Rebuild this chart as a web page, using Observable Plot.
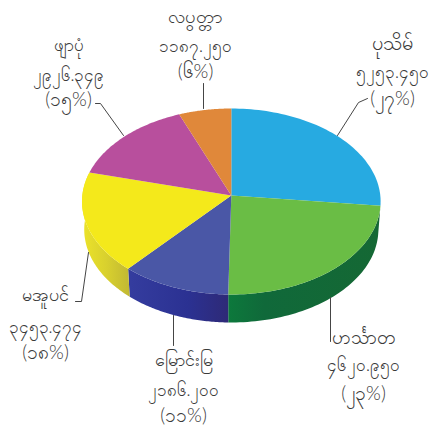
<!DOCTYPE html>
<html><head><meta charset="utf-8">
<style>html,body{margin:0;padding:0;background:#fff}</style>
<script src="https://cdn.jsdelivr.net/npm/d3@7"></script>
<script src="https://cdn.jsdelivr.net/npm/@observablehq/plot@0.6"></script>
</head><body><div id="c"></div>
<script>
// Data
const names=["ပုသိမ်","ဟင်္သာတ","မြောင်းမြ","မအူပင်","ဖျာပုံ","လပွတ္တာ"];
const values=[5253.45,4620.95,2186.2,3453.474,2926.349,1187.25];
const valueLabels=["၅၂၅၃.၄၅၀","၄၆၂၀.၉၅၀","၂၁၈၆.၂၀၀","၃၄၅၃.၄၇၄","၂၉၂၆.၃၄၉","၁၁၈၇.၂၅၀"];
const pctLabels=["(၂၇%)","(၂၃%)","(၁၁%)","(၁၈%)","(၁၅%)","(၆%)"];
const topColors=["#27aae1","#6abd45","#4a57a6","#f4e91b","#b84f9d","#e0883a"];
const sideFills=[null,"url(#gGreen)","url(#gBlue)","url(#gYellow)",null,null];

// Layout (pixels): pie projection, label anchors, leader lines
const P={cx:230.8,cy:195,a:149,b:92.6,k:0.0645,depth:28,rim:0.985};
const labelX=[392,363,183,45,68,195];
const labelY=[[43,72,98],[337,365,393],[360,390,415],[295,327,352],[45,75,99],[17,46,71]];
const nameSize=[20,19,18,18,17,18.5];
const rowSize=[null,17,19];
const leaders=[[[367,98],[358,102],[337,135]],[[330,297],[330,341]],[[173,315],[173,345]],
               [[75,301],[81,301],[88,252]],[[95,103],[100,103],[123,135]],[[203,83],[203,108]]];

const project=(t,dz=0,s=1)=>{const X=Math.sin(t),Y=Math.cos(t),w=1+P.k*Y;
  return {x:P.cx+s*P.a*X/w,y:P.cy-P.b*Y/w+dz};};
const total=d3.sum(values);
let acc=0;
const faces=[],sides=[];
values.forEach((v,i)=>{
  const a0=acc,a1=acc+v/total*2*Math.PI;acc=a1;
  faces.push({i,x:P.cx,y:P.cy});
  const ts=d3.range(61).map(k=>a0+(a1-a0)*k/60);
  ts.forEach(t=>faces.push({i,...project(t)}));
  if(sideFills[i]){
    ts.forEach(t=>sides.push({i,...project(t)}));
    ts.slice().reverse().forEach(t=>sides.push({i,...project(t,P.depth,P.rim)}));
  }
});
const textRows=names.flatMap((n,i)=>[n,valueLabels[i],pctLabels[i]].map((t,j)=>({t,x:labelX[i],y:labelY[i][j],size:j?rowSize[j]:nameSize[i]})));
const leaderRows=leaders.flatMap((l,i)=>l.map(([x,y])=>({i,x,y})));

const grad=(id,stops,x1,x2)=>`<linearGradient id="${id}" gradientUnits="userSpaceOnUse" x1="${x1}" y1="0" x2="${x2}" y2="0">`+
  stops.map(([o,c])=>`<stop offset="${o}" stop-color="${c}"/>`).join("")+`</linearGradient>`;
const defsMark=()=>{const g=document.createElementNS("http://www.w3.org/2000/svg","g");
  g.innerHTML=`<defs>`+
   grad("gGreen",[[0,"#0c7a3c"],[0.25,"#10693a"],[1,"#156834"]],225,380)+
   grad("gBlue",[[0,"#343c9e"],[0.6,"#2b3192"],[1,"#2e2a78"]],130,226)+
   grad("gYellow",[[0,"#ece32a"],[0.5,"#d8d02e"],[1,"#bfb633"]],82,131)+`</defs>`;
  return g;};

const rowSizes=[...new Set(textRows.map(d=>d.size))];
document.getElementById("c").append(Plot.plot({width:433,height:427,margin:0,axis:null,
 x:{type:"identity"},y:{type:"identity"},
 style:{background:"#fff"},
 marks:[
  defsMark,
  Plot.line(sides,{x:"x",y:"y",z:"i",fill:d=>sideFills[d.i],stroke:"none"}),
  Plot.line(faces,{x:"x",y:"y",z:"i",fill:d=>topColors[d.i],stroke:"none"}),
  Plot.line(leaderRows,{x:"x",y:"y",z:"i",stroke:"#454545",strokeWidth:1,curve:"linear"}),
  ...rowSizes.map(s=>Plot.text(textRows.filter(d=>d.size===s),{x:"x",y:"y",text:"t",fontSize:s,fill:"#3a3a3a",fontFamily:"Lato,'Noto Sans',sans-serif",fontWeight:300}))
 ]}));
</script></body></html>
